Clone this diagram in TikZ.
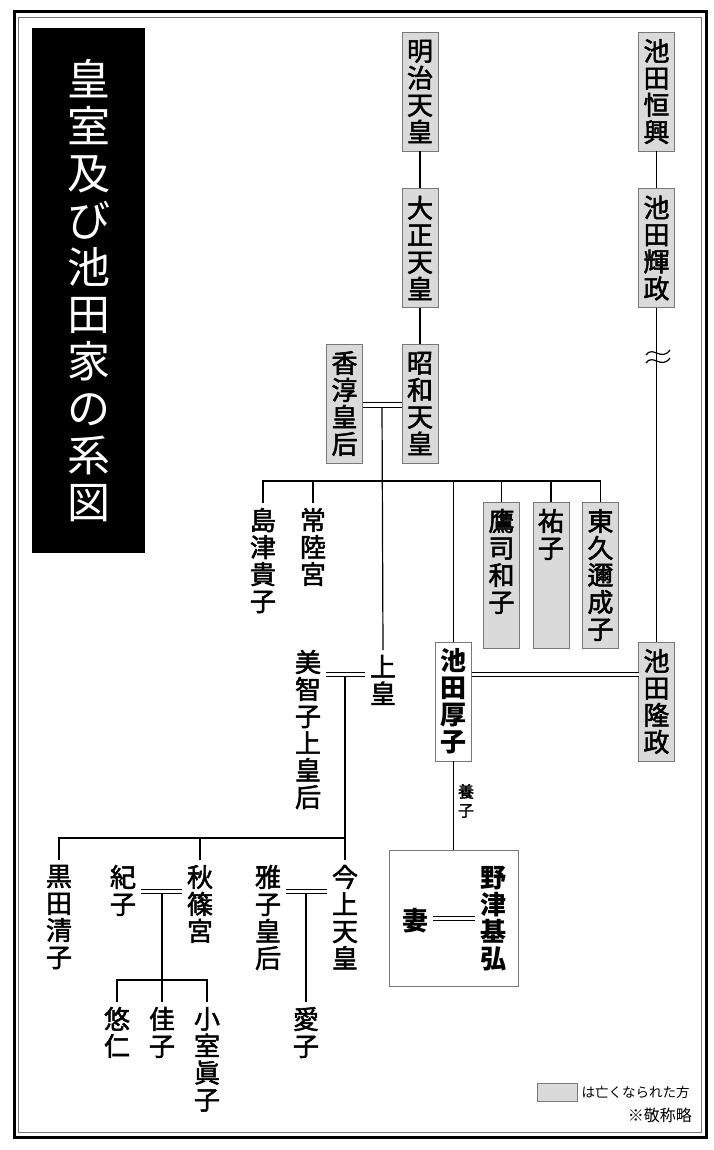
\documentclass[tikz,border=0pt]{standalone}
\usepackage{fontspec}
\newfontfamily\jp{Noto Sans CJK JP}
\newfontfamily\jpm{Noto Sans CJK JP}[FakeBold=2]
\usetikzlibrary{positioning}
\definecolor{deadgray}{RGB}{218,218,218}
\definecolor{boxgray}{RGB}{120,120,120}
\newcommand\namefont{\jpm\fontsize{26}{27}\selectfont}
\newcommand\boldfont{\jp\bfseries\fontsize{26}{27}\selectfont}
\newcommand\titlefont{\jp\fontsize{43}{47}\selectfont}
\newcommand\notefont{\jp\fontsize{13.5}{16}\selectfont}

\begin{document}
\begin{tikzpicture}[x=1pt,y=-1pt,
    person/.style={font=\namefont, align=center, inner sep=0pt, outer sep=5pt},
    deadbox/.style={person, draw=boxgray, fill=deadgray, line width=0.9pt,
        minimum width=36pt, minimum height=119pt, outer sep=0pt},
    livebox/.style={deadbox, fill=white, font=\boldfont},
    kin/.style={line width=1.2pt},
    wed/.style={double, double distance=3.4pt, line width=1.1pt}]
    % Рамка 714 x 1150, подвійна лінія
    \useasboundingbox (0,0) rectangle (714,1150);
    \draw[line width=3pt] (14,12) rectangle (706,1137);
    \draw[boxgray, line width=1pt] (18.5,17.5) rectangle (701.5,1132);

    % Заголовок
    \node[fill=black, text=white, font=\titlefont, align=center, inner sep=0pt,
        minimum width=113pt, minimum height=525pt] (title) at (88.5,290.5)
        {皇\\室\\及\\び\\池\\田\\家\\の\\系\\図};

    % Старше покоління
    \node[deadbox] (meiji) at (420,91.5) {明\\治\\天\\皇};
    \node[deadbox] (taisho) at (420,248) {大\\正\\天\\皇};
    \node[deadbox] (showa) at (420,403.5) {昭\\和\\天\\皇};
    \node[deadbox] (kojun) at (344.5,403.5) {香\\淳\\皇\\后};
    \node[deadbox] (tsuneoki) at (656.5,91.5) {池\\田\\恒\\興};
    \node[deadbox] (terumasa) at (656.5,248) {池\\田\\輝\\政};

    % Діти: сестри в сірих рамках висотою 146
    \node[deadbox, minimum height=146pt] (kazuko) at (501.5,575)
        {鷹\\司\\和\\子\\\phantom{子}};
    \node[deadbox, minimum height=146pt] (sachiko) at (551,575)
        {祐\\子\\\phantom{子}\\\phantom{子}\\\phantom{子}};
    \node[deadbox, minimum height=146pt] (shigeko) at (600.5,575)
        {東\\久\\邇\\成\\子};
    \node[person, anchor=north] (takako) at (263,503) {島\\津\\貴\\子};
    \node[person, anchor=north] (hitachi) at (313,503) {常\\陸\\宮};
    \node[person, anchor=north] (joko) at (383,650) {上\\皇};
    \node[person, anchor=north] (michiko) at (308,645) {美\\智\\子\\上\\皇\\后};
    \node[livebox] (atsuko) at (453.5,701.5) {池\\田\\厚\\子};
    \node[deadbox] (takamasa) at (656.5,701.5) {池\\田\\隆\\政};

    % Онуки
    \node[person, anchor=north] (sayako) at (59,860) {黒\\田\\清\\子};
    \node[person, anchor=north] (kiko) at (123,860) {紀\\子};
    \node[person, anchor=north] (akishino) at (200,860) {秋\\篠\\宮};
    \node[person, anchor=north] (masako) at (268,860) {雅\\子\\皇\\后};
    \node[person, anchor=north] (kinjo) at (345,860) {今\\上\\天\\皇};
    \node[person, anchor=north] (hisahito) at (117,1002) {悠\\仁};
    \node[person, anchor=north] (kako) at (162,1002) {佳\\子};
    \node[person, anchor=north] (mako) at (207,1002) {小\\室\\眞\\子};
    \node[person, anchor=north] (aiko) at (306,1002) {愛\\子};

    % Прийомний син
    \node[draw=boxgray, line width=0.9pt, minimum width=129pt, minimum height=136pt,
        inner sep=0pt] (nozubox) at (453.5,918) {};
    \node[person, font=\boldfont] (motohiro) at (493,919) {野\\津\\基\\弘};
    \node[person, font=\boldfont] (tsuma) at (415,921) {妻};
    \node[font=\jpm\fontsize{16}{19}\selectfont, align=center, inner sep=0pt]
        (yoshi) at (466,801) {養\\子};

    % Точки з'єднань
    \coordinate (wedS) at (382,405);
    \coordinate (wedJ) at (345,674.5);
    \coordinate (wedI) at (0,674.5);
    \coordinate (wedK) at (162,891.5);
    \coordinate (wedA) at (306,891.5);
    \coordinate (wedN) at (0,918.5);
    \coordinate (sibA) at (0,481);
    \coordinate (sibB) at (0,838);
    \coordinate (sibC) at (0,980);

    % Лінії поколінь
    \draw[kin] (meiji) -- (taisho);
    \draw[kin] (taisho) -- (showa);
    \draw[kin] (tsuneoki) -- (terumasa);
    \draw[kin] (terumasa) -- (takamasa);
    \draw[kin] (646,355) .. controls (653,345) and (661,362) .. (670,350);
    \draw[kin] (646,363) .. controls (653,353) and (661,370) .. (670,358);

    \draw[kin] (wedS) -- (joko.north);
    \draw[kin] (takako.north) -- (takako.north |- sibA) -- (shigeko.north |- sibA)
        -- (shigeko.north);
    \draw[kin] (hitachi.north) -- (hitachi.north |- sibA);
    \draw[kin] (atsuko.north) -- (atsuko.north |- sibA);
    \draw[kin] (kazuko.north) -- (kazuko.north |- sibA);
    \draw[kin] (sachiko.north) -- (sachiko.north |- sibA);

    \draw[kin] (wedJ) -- (kinjo.north);
    \draw[kin] (sayako.north) -- (sayako.north |- sibB) -- (wedJ |- sibB);
    \draw[kin] (akishino.north) -- (akishino.north |- sibB);

    \draw[kin] (wedK) -- (kako.north);
    \draw[kin] (hisahito.north) -- (hisahito.north |- sibC) -- (mako.north |- sibC)
        -- (mako.north);
    \draw[kin] (wedA) -- (aiko.north);

    \draw[kin] (atsuko.south) -- (nozubox.north);

    % Шлюби
    \draw[wed] (kojun.east |- wedS) -- (showa.west |- wedS);
    \draw[wed] (michiko.east |- wedI) -- (joko.west |- wedI);
    \draw[wed] (atsuko.east |- wedI) -- (takamasa.west |- wedI);
    \draw[wed] (kiko.east |- wedK) -- (akishino.west |- wedK);
    \draw[wed] (masako.east |- wedA) -- (kinjo.west |- wedA);
    \draw[wed] (tsuma.east |- wedN) -- (motohiro.west |- wedN);

    % Легенда
    \node[draw=boxgray, fill=deadgray, line width=0.9pt, minimum width=40pt,
        minimum height=18pt, inner sep=0pt] (keybox) at (557,1092) {};
    \node[right=4pt of keybox, font=\notefont, inner sep=0pt] (keytext) {は亡くなられた方};
    \node[font=\jp\fontsize{16}{18}\selectfont, anchor=east, inner sep=0pt] (note)
        at (692,1115) {※敬称略};
\end{tikzpicture}
\end{document}
